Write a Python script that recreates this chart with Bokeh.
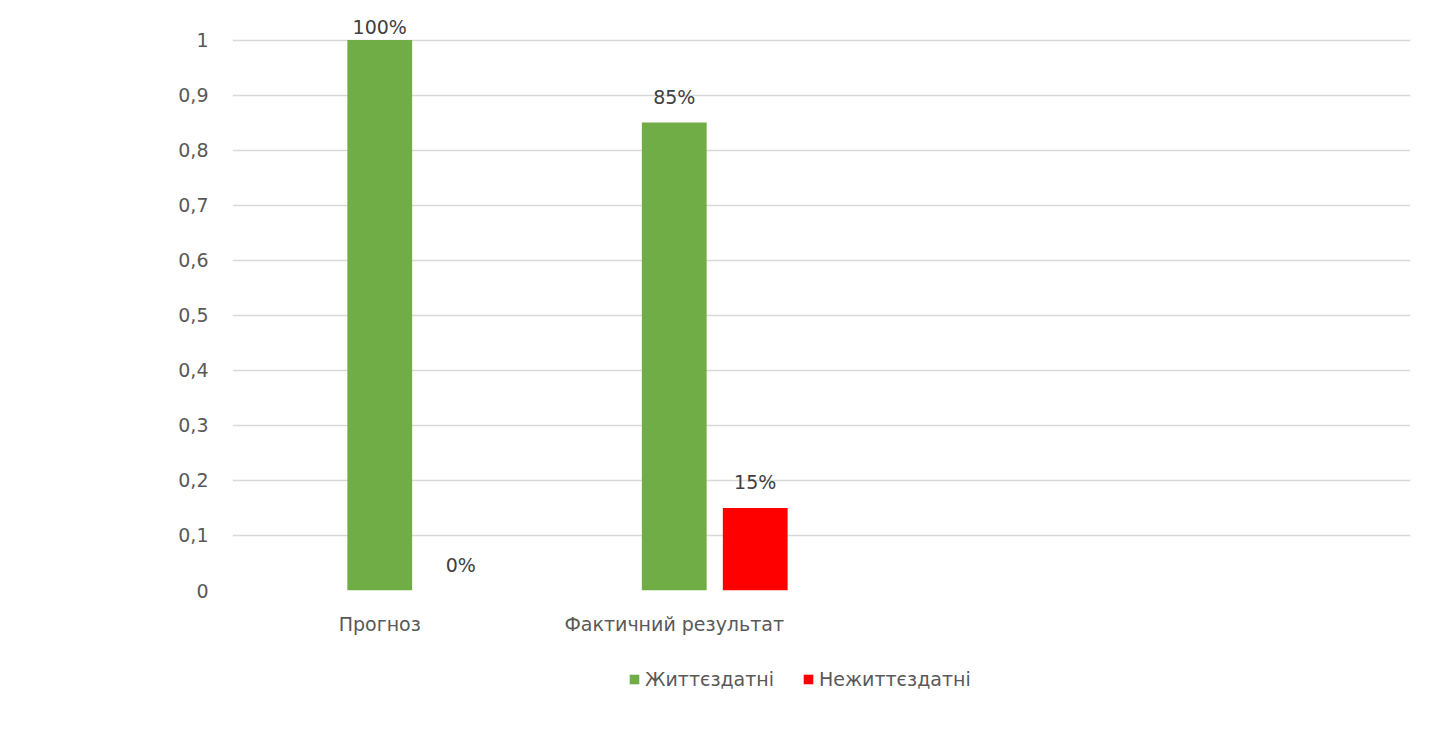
from bokeh.plotting import figure
from bokeh.layouts import column
from bokeh.models import ColumnDataSource, FactorRange, Range1d, FixedTicker, Legend, LegendItem
from bokeh.transform import dodge
from bokeh.core.properties import value
from bokeh.embed import file_html
from bokeh.resources import INLINE

# ---- data ----
categories = ["Прогноз", "Фактичний результат", " ", "  "]
viable = [1.0, 0.85, None, None]        # Життєздатні
nonviable = [0.0, 0.15, None, None]     # Нежиттєздатні
viable_labels = ["100%", "85%", "", ""]
nonviable_labels = ["0%", "15%", "", ""]
y_ticks = [0, 0.1, 0.2, 0.3, 0.4, 0.5, 0.6, 0.7, 0.8, 0.9, 1]
y_tick_labels = ["0", "0,1", "0,2", "0,3", "0,4", "0,5", "0,6", "0,7", "0,8", "0,9", "1"]
series_names = ["Життєздатні", "Нежиттєздатні"]

GREEN = "#70AD47"
RED = "#FF0000"
FONT = "DejaVu Sans"
FS = "19px"

def lab_y(vals):
    return [float("nan") if v is None else min(v + 0.047, 1.024) for v in vals]

def num(vals):
    return [float("nan") if v is None else v for v in vals]

src = ColumnDataSource(dict(
    cat=categories,
    v1=num(viable), v2=num(nonviable),
    l1=viable_labels, l2=nonviable_labels,
    ly1=lab_y(viable), ly2=lab_y(nonviable),
))

W = 1437
H_MAIN = 640
H_LEG = 97

p = figure(width=W, height=H_MAIN, x_range=FactorRange(*categories),
           y_range=Range1d(0, 1.05), output_backend="svg", toolbar_location=None,
           min_border_left=232, min_border_right=27, min_border_top=12, min_border_bottom=50)
p.outline_line_color = None
p.background_fill_color = "white"
p.border_fill_color = "white"

r1 = p.vbar(x=dodge("cat", 0.0, range=p.x_range), top="v1", width=0.22, source=src,
            fill_color=GREEN, line_color=None)
r2 = p.vbar(x=dodge("cat", 0.275, range=p.x_range), top="v2", width=0.22, source=src,
            fill_color=RED, line_color=None)

p.text(x=dodge("cat", 0.0, range=p.x_range), y="ly1", text="l1", source=src,
       text_align="center", text_baseline="middle", text_font=value(FONT),
       text_font_size=FS, text_color="#404040")
p.text(x=dodge("cat", 0.275, range=p.x_range), y="ly2", text="l2", source=src,
       text_align="center", text_baseline="middle", text_font=value(FONT),
       text_font_size=FS, text_color="#404040")

p.xgrid.grid_line_color = None
p.ygrid.grid_line_color = "#D9D9D9"
p.ygrid.grid_line_width = 1.5
p.yaxis.ticker = FixedTicker(ticks=y_ticks)
p.yaxis.major_label_overrides = {t: s for t, s in zip(y_ticks, y_tick_labels)}
for ax in (p.xaxis[0], p.yaxis[0]):
    ax.axis_line_color = None
    ax.major_tick_line_color = None
    ax.minor_tick_line_color = None
    ax.major_label_text_font = FONT
    ax.major_label_text_font_size = FS
    ax.major_label_text_color = "#595959"
p.yaxis.major_label_standoff = 18
p.xaxis.major_label_standoff = 16

# ---- legend strip below the chart ----
pl = figure(width=W, height=H_LEG, output_backend="svg", toolbar_location=None,
            min_border=0, x_range=Range1d(0, 1), y_range=Range1d(0, 1))
pl.outline_line_color = None
pl.xaxis.visible = False
pl.yaxis.visible = False
pl.grid.visible = False
swatch = ColumnDataSource(dict(x=[0.5], top=[float("nan")]))
g1 = pl.vbar(x="x", top="top", width=0.1, source=swatch, fill_color=GREEN, line_color=None)
g2 = pl.vbar(x="x", top="top", width=0.1, source=swatch, fill_color=RED, line_color=None)
legend = Legend(items=[LegendItem(label=series_names[0], renderers=[g1], index=0),
                       LegendItem(label=series_names[1], renderers=[g2], index=0)],
                orientation="horizontal", location=(396, 47),
                label_text_font=FONT, label_text_font_size=FS,
                label_text_color="#595959", glyph_width=12, glyph_height=12,
                spacing=28, border_line_color=None, background_fill_alpha=0,
                margin=0, padding=4)
pl.add_layout(legend, "center")

layout = column(p, pl, spacing=0)
open("out.html", "w").write(file_html(layout, INLINE))
